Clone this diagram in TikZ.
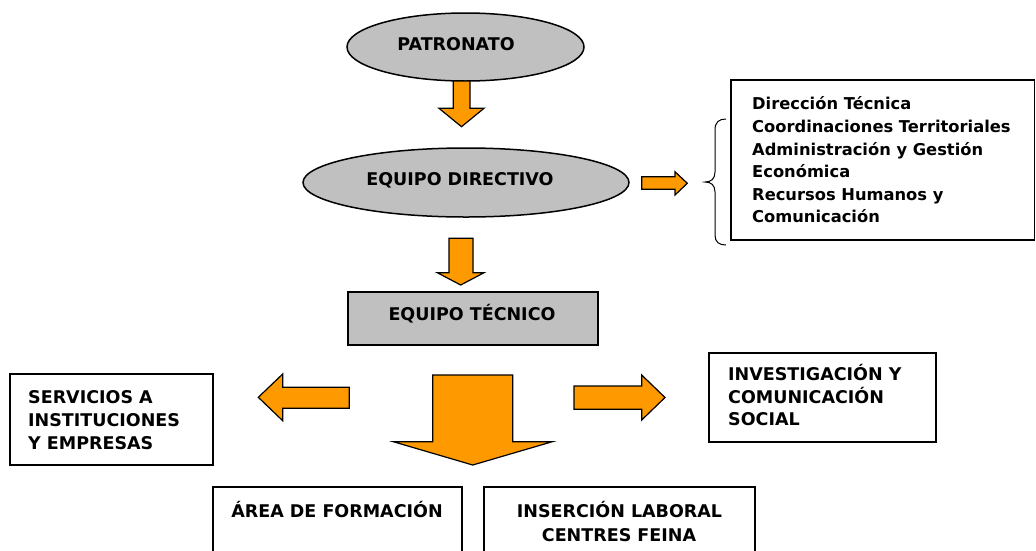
\documentclass[tikz,border=0pt]{standalone}
\usepackage{fontspec}
\setmainfont{DejaVu Sans}
\usetikzlibrary{shapes.geometric}
\definecolor{boxgray}{HTML}{C0C0C0}
\definecolor{arroworange}{HTML}{FF9900}
\begin{document}
\begin{tikzpicture}[x=1pt,y=-1pt,
  ell/.style={ellipse, draw=black, fill=boxgray, line width=1.5pt, inner sep=0},
  graybox/.style={rectangle, draw=black, fill=boxgray, line width=1.5pt, inner sep=0},
  whitebox/.style={rectangle, draw=black, fill=white, line width=1.5pt, inner sep=0},
  capstxt/.style={inner sep=0, anchor=base, font=\bfseries\fontsize{17.5}{21}\selectfont},
  capsleft/.style={capstxt, anchor=base west},
  listtxt/.style={inner sep=0, anchor=base west, font=\bfseries\fontsize{16.3}{22.6}\selectfont},
  blockarrow/.style={fill=arroworange, draw=black, line width=1.2pt, line join=miter},
  bracepath/.style={draw=black, line width=1pt}]
\path[use as bounding box] (0,0) rectangle (1036,550);
\fill[white] (0,0) rectangle (1036,550);
\begin{scope}
\clip (0,0) rectangle (1036,550);

% ellipses
\node[ell, minimum width=237pt, minimum height=68pt] (pat) at (465.5,47) {};
\node[capstxt] (patT) at (456,50) {PATRONATO};
\node[ell, minimum width=326pt, minimum height=69pt] (dir) at (466,182.5) {};
\node[capstxt] (dirT) at (460,185) {EQUIPO DIRECTIVO};

% equipo tecnico
\node[graybox, minimum width=250pt, minimum height=53pt] (tec) at (473,318.5) {};
\node[capstxt] (tecT) at (472,320) {EQUIPO TÉCNICO};

% list box
\node[whitebox, minimum width=303.5pt, minimum height=160pt] (lst) at (882.75,160) {};
\node[listtxt] (l1) at (752,109.9) {Dirección Técnica};
\node[listtxt] (l2) at (752,132.5) {Coordinaciones Territoriales};
\node[listtxt] (l3) at (752,155.1) {Administración y Gestión};
\node[listtxt] (l4) at (752,177.7) {Económica};
\node[listtxt] (l5) at (752,200.3) {Recursos Humanos y};
\node[listtxt] (l6) at (752,222.9) {Comunicación};

% brace
\draw[bracepath] (726,119) .. controls (719,119) and (715,122) .. (715,130) -- (715,172)
  .. controls (715,179) and (711,182) .. (705,182)
  .. controls (711,182) and (715,185) .. (715,192) -- (715,235)
  .. controls (715,242) and (719,245) .. (726,245);

% servicios
\node[whitebox, minimum width=203pt, minimum height=91pt] (ser) at (111.5,419.5) {};
\node[capsleft] (s1) at (28,403.5) {SERVICIOS A};
\node[capsleft] (s2) at (28,426.5) {INSTITUCIONES};
\node[capsleft] (s3) at (28,449.5) {Y EMPRESAS};

% investigacion
\node[whitebox, minimum width=227pt, minimum height=89pt] (inv) at (822.5,397.5) {};
\node[capsleft] (i1) at (728,380.5) {INVESTIGACIÓN Y};
\node[capsleft] (i2) at (728,403) {COMUNICACIÓN};
\node[capsleft] (i3) at (728,425.5) {SOCIAL};

% bottom boxes
\node[whitebox, minimum width=249pt, minimum height=90pt] (for) at (337.5,532) {};
\node[capstxt] (forT) at (337,517) {ÁREA DE FORMACIÓN};
\node[whitebox, minimum width=271pt, minimum height=90pt] (ins) at (619.5,532) {};
\node[capstxt] (ins1) at (619.5,517) {INSERCIÓN LABORAL};
\node[capstxt] (ins2) at (619,541.5) {CENTRES FEINA};

% block arrows
\filldraw[blockarrow] (453.3,81) -- (470,81) -- (470,108.3) -- (484,108.3) -- (461.5,126.7)
  -- (439,108.3) -- (453.3,108.3) -- cycle;
\filldraw[blockarrow] (449,238.3) -- (473,238.3) -- (473,272.7) -- (484,272.7) -- (460.7,285)
  -- (437.3,272.7) -- (449,272.7) -- cycle;
\filldraw[blockarrow] (641.7,176.7) -- (675,176.7) -- (675,171.7) -- (687.3,183.3)
  -- (675,195) -- (675,189.3) -- (641.7,189.3) -- cycle;
\filldraw[blockarrow] (349.3,387.3) -- (282.7,387.3) -- (282.7,374) -- (258.3,397.3)
  -- (282.7,420.7) -- (282.7,408.3) -- (349.3,408.3) -- cycle;
\filldraw[blockarrow] (574,386) -- (641.7,386) -- (641.7,375) -- (665,397.5)
  -- (641.7,420) -- (641.7,409.3) -- (574,409.3) -- cycle;
\filldraw[blockarrow] (432.7,375) -- (512.7,375) -- (512.7,441.7) -- (552.3,441.7)
  -- (472.7,465) -- (393.3,441.7) -- (432.7,441.7) -- cycle;
\end{scope}
\end{tikzpicture}
\end{document}
